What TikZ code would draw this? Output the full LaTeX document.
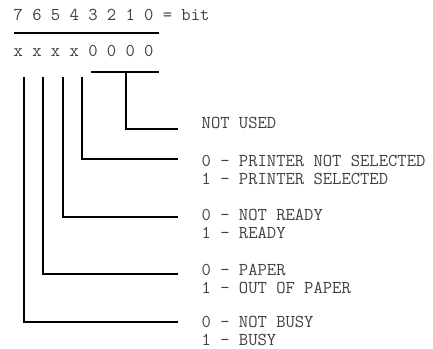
\documentclass[tikz,border=0pt]{standalone}
\begin{document}
\begin{tikzpicture}[x=1pt,y=-1pt,
  txt/.style={inner sep=0pt,anchor=base west,text=black!75,
    font=\ttfamily\fontsize{18.1}{18.5}\selectfont},
  wire/.style={draw=black,line width=1.6pt}]
\useasboundingbox (0,0) rectangle (433,348);

% register layout
\node[txt] (bits) at (13.5,20) {7 6 5 4 3 2 1 0 = bit};
\node[txt] (vals) at (13.5,56) {x x x x 0 0 0 0};
\coordinate (rulel) at (14,33);
\coordinate (ruler) at (159,33);
\draw[wire] (rulel) -- (ruler);

% bit columns
\coordinate (b7) at (24,77);
\coordinate (b6) at (43,77);
\coordinate (b5) at (63,77);
\coordinate (b4) at (82,77);
\coordinate (lowl) at (91,72);
\coordinate (lowr) at (159,72);
\coordinate (lowm) at (126,72);

% descriptions
\node[txt] (unused)  at (201.5,128) {NOT USED};
\node[txt] (sel0)    at (201.5,166) {0 - PRINTER NOT SELECTED};
\node[txt] (sel1)    at (201.5,184.5) {1 - PRINTER SELECTED};
\node[txt] (rdy0)    at (201.5,220) {0 - NOT READY};
\node[txt] (rdy1)    at (201.5,238) {1 - READY};
\node[txt] (pap0)    at (201.5,275) {0 - PAPER};
\node[txt] (pap1)    at (201.5,293) {1 - OUT OF PAPER};
\node[txt] (busy0)   at (201.5,327.5) {0 - NOT BUSY};
\node[txt] (busy1)   at (201.5,345.5) {1 - BUSY};

% line ends beside the descriptions
\coordinate (eu) at (178,129);
\coordinate (e4) at (178,159);
\coordinate (e5) at (178,217);
\coordinate (e6) at (178,274);
\coordinate (e7) at (178,322);

% leaders
\draw[wire] (lowl) -- (lowr);
\draw[wire] (lowm) |- (eu);
\draw[wire] (b4) |- (e4);
\draw[wire] (b5) |- (e5);
\draw[wire] (b6) |- (e6);
\draw[wire] (b7) |- (e7);
\end{tikzpicture}
\end{document}
